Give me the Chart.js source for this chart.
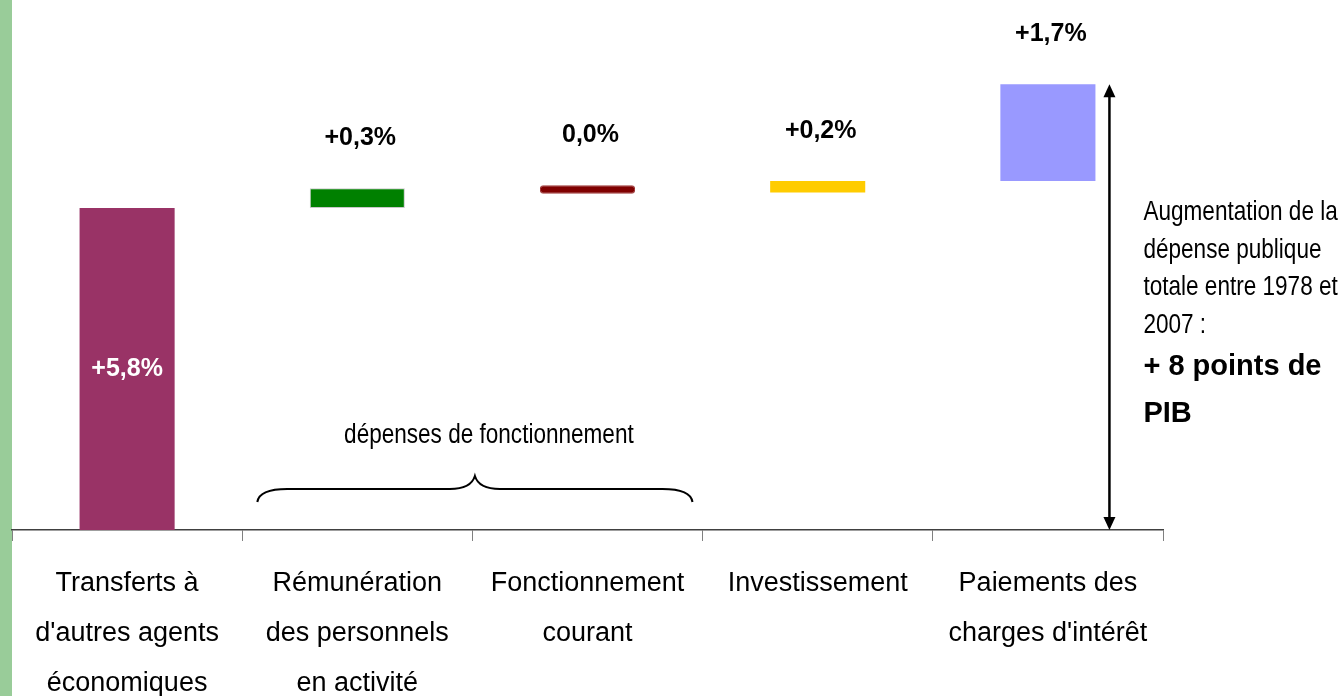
<!DOCTYPE html>
<html>
<head>
<meta charset="utf-8">
<script src="https://cdn.jsdelivr.net/npm/chart.js@4.4.1/dist/chart.umd.min.js"></script>
<style>
    html, body { margin: 0; padding: 0; background: #fff; overflow: hidden; }
    #wrap { width: 1344px; height: 696px; }
</style>
</head>
<body>
<div id="wrap"><canvas id="depenses-chart" width="1344" height="696"></canvas></div>
<script>
// categories (multi-line labels as on the x axis)
const categories = [
    ['Transferts à', "d'autres agents", 'économiques'],
    ['Rémunération', 'des personnels', 'en activité'],
    ['Fonctionnement', 'courant'],
    ['Investissement'],
    ['Paiements des', "charges d'intérêt"]
];
// waterfall: start and end of each floating bar, in points of GDP
const barStart = [0, 5.8, 6.06, 6.08, 6.29];
const barEnd = [5.8, 6.16, 6.21, 6.29, 8.03];
const valueLabels = ['+5,8%', '+0,3%', '0,0%', '+0,2%', '+1,7%'];
const barColors = ['#993366', '#008000', '#800000', '#FFCC00', '#9999FF'];

const sans = "'Liberation Sans', Arial, sans-serif";

// narrow text: regular face squeezed horizontally
function narrowText(ctx, text, x, y, size, align) {
    ctx.save();
    ctx.font = size + 'px ' + sans;
    ctx.textAlign = align;
    ctx.translate(x, y);
    ctx.scale(0.82, 1);
    ctx.fillText(text, 0, 0);
    ctx.restore();
}

const decorPlugin = {
    id: 'decor',
    beforeDraw(chart) {
        const ctx = chart.ctx;
        ctx.save();
        ctx.fillStyle = '#fff';
        ctx.fillRect(0, 0, chart.width, chart.height);
        ctx.fillStyle = '#99CC99';
        ctx.fillRect(0, 0, 12, chart.height);
        ctx.restore();
    },
    afterDatasetsDraw(chart) {
        const ctx = chart.ctx;
        const meta = chart.getDatasetMeta(0);
        const yScale = chart.scales.y;
        const xScale = chart.scales.x;

        ctx.save();
        ctx.textAlign = 'center';
        ctx.textBaseline = 'middle';
        ctx.font = 'bold 25px ' + sans;
        meta.data.forEach((bar, i) => {
            if (i === 0) {
                ctx.fillStyle = '#fff';
                ctx.fillText(valueLabels[i], bar.x, (bar.y + bar.base) / 2);
            } else {
                ctx.fillStyle = '#000';
                ctx.fillText(valueLabels[i], bar.x + 3, bar.y - 50);
            }
        });

        // brace over the "fonctionnement" categories
        const bottom = chart.chartArea.bottom;
        const left = xScale.getPixelForValue(1) - 100;
        const right = xScale.getPixelForValue(2) + 105;
        const mid = (left + right) / 2;
        const yEnd = bottom - 28, yBar = bottom - 41, yPeak = bottom - 54;
        ctx.strokeStyle = '#000';
        ctx.lineWidth = 2;
        ctx.beginPath();
        ctx.moveTo(left, yEnd);
        ctx.quadraticCurveTo(left + 2, yBar, left + 30, yBar);
        ctx.lineTo(mid - 25, yBar);
        ctx.quadraticCurveTo(mid - 4, yBar, mid, yPeak);
        ctx.quadraticCurveTo(mid + 4, yBar, mid + 25, yBar);
        ctx.lineTo(right - 30, yBar);
        ctx.quadraticCurveTo(right - 2, yBar, right, yEnd);
        ctx.stroke();

        ctx.fillStyle = '#000';
        ctx.textBaseline = 'alphabetic';
        narrowText(ctx, 'dépenses de fonctionnement', mid + 14, bottom - 87, 27.5, 'center');

        // double arrow for the total increase
        const last = meta.data[meta.data.length - 1];
        const ax = last.x + last.width / 2 + 14;
        const yTop = yScale.getPixelForValue(barEnd[barEnd.length - 1]);
        const yBase = yScale.getPixelForValue(0);
        ctx.lineWidth = 2.5;
        ctx.beginPath();
        ctx.moveTo(ax, yTop + 10);
        ctx.lineTo(ax, yBase - 10);
        ctx.stroke();
        ctx.beginPath();
        ctx.moveTo(ax, yTop);
        ctx.lineTo(ax - 6, yTop + 13);
        ctx.lineTo(ax + 6, yTop + 13);
        ctx.closePath();
        ctx.fill();
        ctx.beginPath();
        ctx.moveTo(ax, yBase);
        ctx.lineTo(ax - 6, yBase - 13);
        ctx.lineTo(ax + 6, yBase - 13);
        ctx.closePath();
        ctx.fill();

        // annotation
        const tx = ax + 34;
        ['Augmentation de la', 'dépense publique', 'totale entre 1978 et', '2007 :'].forEach((line, i) => {
            narrowText(ctx, line, tx, 220 + i * 37.5, 27.5, 'left');
        });
        ctx.textAlign = 'left';
        ctx.font = 'bold 29px ' + sans;
        ctx.fillText('+ 8 points de', tx, 375);
        ctx.fillText('PIB', tx, 422);
        ctx.restore();
    }
};

new Chart(document.getElementById('depenses-chart'), {
    type: 'bar',
    data: {
        labels: categories,
        datasets: [{
            data: barStart.map((s, i) => [s, barEnd[i]]),
            backgroundColor: barColors,
            borderColor: ['#993366', '#c8c8c8', '#a03a3a', '#FFCC00', '#9999FF'],
            borderWidth: [0, 1, 1, 0, 0],
            borderRadius: [0, 0, 3, 0, 0],
            borderSkipped: false,
            categoryPercentage: 1,
            barPercentage: 0.413
        }]
    },
    options: {
        responsive: false,
        animation: false,
        devicePixelRatio: 1,
        layout: { padding: { left: 12, right: 181, top: 0, bottom: 0 } },
        plugins: { legend: { display: false }, tooltip: { enabled: false } },
        scales: {
            y: { display: false, min: 0, max: 9.55 },
            x: {
                grid: { display: true, drawOnChartArea: false, tickLength: 11, color: '#808080', offset: true },
                border: { display: true, color: '#404040', width: 1.5 },
                ticks: {
                    color: '#000',
                    padding: 18,
                    maxRotation: 0,
                    autoSkip: false,
                    font: { family: sans, size: 27, lineHeight: 50 / 27 }
                },
                afterFit: (scale) => { scale.height = 166; }
            }
        }
    },
    plugins: [decorPlugin]
});
</script>
</body>
</html>
